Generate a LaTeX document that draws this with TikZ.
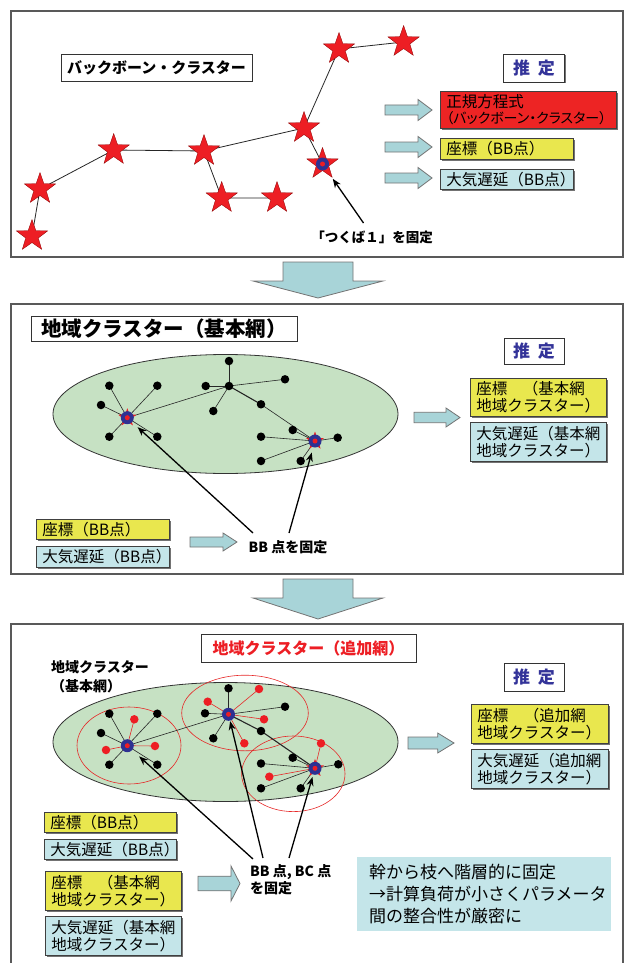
\documentclass[tikz,border=0pt]{standalone}
\usepackage{fontspec}
\setmainfont{Noto Sans CJK JP}
\usetikzlibrary{shapes.geometric,arrows.meta,shadows}
\definecolor{starred}{RGB}{237,30,36}
\definecolor{hubblue}{RGB}{46,49,146}
\definecolor{boxyellow}{RGB}{233,231,78}
\definecolor{boxblue}{RGB}{196,229,233}
\definecolor{arrowfill}{RGB}{168,212,216}
\definecolor{ellgreen}{RGB}{198,225,195}
\definecolor{boxred}{RGB}{237,36,36}
\definecolor{titleblue}{RGB}{51,51,153}
\definecolor{circred}{RGB}{230,40,40}
\newcommand\fsz[2]{\fontsize{#1}{#2}\selectfont}
\newcommand\rblock[6]{\draw[blockarrow] ({#1},{#2-#4}) -- ({#6},{#2-#4}) -- ({#6},{#2-#5}) -- ({#1+#3},{#2}) -- ({#6},{#2+#5}) -- ({#6},{#2+#4}) -- ({#1},{#2+#4}) -- cycle;}
\newcommand\dblock[6]{\draw[blockarrow] ({#1-#3},{#2}) -- ({#1+#3},{#2}) -- ({#1+#3},{#5}) -- ({#1+#4},{#5}) -- ({#1},{#6}) -- ({#1-#4},{#5}) -- ({#1-#3},{#5}) -- cycle;}
\begin{document}
\begin{tikzpicture}[x=1pt,y=-1pt,
  frame/.style={draw=black!65, line width=1.6pt},
  shad/.style={drop shadow={shadow xshift=1.3pt,shadow yshift=-1.3pt,fill=black!55,opacity=1}},
  tbox/.style={draw=black!80, line width=0.9pt, fill=white, inner sep=0pt, shad},
  cbox/.style={draw=black!75, line width=0.8pt, inner xsep=6pt, inner ysep=0pt, align=left, anchor=north west, shad, font=\fsz{15.5}{17}},
  ybox/.style={cbox, fill=boxyellow},
  bbox/.style={cbox, fill=boxblue},
  rbox/.style={cbox, fill=boxred},
  blockarrow/.style={fill=arrowfill, draw=black!55, line width=0.8pt},
  bigstar/.style={star, star points=5, star point ratio=2.5, minimum size=33pt, inner sep=0pt, fill=starred, draw=red!55!black, line width=0.3pt},
  smallstar/.style={star, star points=5, star point ratio=2.5, minimum size=19pt, inner sep=0pt, fill=starred},
  hubring/.style={circle, fill=hubblue, minimum size=13pt, inner sep=0pt},
  hubdot/.style={circle, fill=starred, minimum size=5pt, inner sep=0pt},
  dot/.style={circle, fill=black, minimum size=8.5pt, inner sep=0pt},
  rdot/.style={circle, fill=starred, minimum size=8.5pt, inner sep=0pt},
  edge/.style={draw=black!85, line width=0.6pt},
  redge/.style={draw=circred, line width=0.6pt},
  ptr/.style={-{Stealth[length=9pt,width=7pt]}, line width=1.3pt},
  lbl/.style={font=\fsz{14}{17}\bfseries, inner sep=0pt}
]
\useasboundingbox (0,0) rectangle (628,963);

% ================= Panel 1 =================
\draw[frame] (11,11) rectangle (623,257);
\node[tbox, minimum width=191pt, minimum height=27pt, font=\fsz{15}{18}\bfseries] (t1) at (156.5,67.5) {バックボーン・クラスター};

\coordinate (S1) at (32,236);
\coordinate (S2) at (40,189);
\coordinate (S3) at (113.7,150);
\coordinate (S4) at (204,151);
\coordinate (S5) at (221.7,198);
\coordinate (S6) at (277,198);
\coordinate (S7) at (304,128);
\coordinate (S8) at (339,49);
\coordinate (S9) at (403.6,42);
\coordinate (ST) at (322.5,164);
\draw[edge, line width=0.8pt] (S1) -- (S2) -- (S3) -- (S4) -- (S5) -- (S6);
\draw[edge, line width=0.8pt] (S4) -- (S7) -- (S8) -- (S9);
\draw[edge, line width=0.8pt] (S7) -- (ST);
\foreach \s in {S1,S2,S3,S4,S5,S6,S7,S8,S9,ST} \node[bigstar] (\s n) at (\s) {};
\node[hubring] (STr) at (ST) {};
\node[hubdot] (STd) at (ST) {};

\node[lbl, font=\fsz{13.5}{16}\bfseries] (tsk) at (372,237) {「つくば１」を固定};
\coordinate (tska) at (363.5,223);
\draw[ptr, shorten >=2pt] (tska) -- (STn) ;

\node[tbox, minimum width=61pt, minimum height=28pt, text=titleblue, font=\fsz{17}{20}\bfseries] (est1) at (534,68) {推\hspace{0.45em}定};
\node[rbox, text width=164pt, minimum height=37pt] (rb1) at (440,91) {正規方程式\\[-1pt]{\fsz{14}{15}\addfontfeature{RawFeature=+palt}（バックボーン・クラスター）}};
\node[ybox, text width=121pt, minimum height=21pt] (yb1) at (440,138) {座標（BB点）};
\node[bbox, text width=121pt, minimum height=20pt] (bb1) at (440,169) {大気遅延（BB点）};
\rblock{385}{110}{47}{5}{10.5}{418}
\rblock{385}{147}{47}{5}{10.5}{418}
\rblock{385}{178}{47}{5}{10.5}{418}

\dblock{318}{262}{35}{65}{281}{298}

% ================= Panel 2 =================
\draw[frame] (11,304) rectangle (623,574);
\node[tbox, minimum width=266pt, minimum height=25pt, font=\fsz{20.5}{23}\bfseries] (t2) at (164,328.5) {地域クラスター（基本網）};
\draw[fill=ellgreen, draw=black!80, line width=0.8pt] (225.5,414) ellipse [x radius=172.5, y radius=59.5];

\coordinate (mh1) at (127.3,417.7);
\coordinate (mh2) at (229,386);
\coordinate (mh3) at (315,441);
\coordinate (ma1) at (109.3,385.7);
\coordinate (ma2) at (157.3,385.7);
\coordinate (ma3) at (101,405);
\coordinate (ma4) at (109.3,436.7);
\coordinate (ma5) at (157.3,436.7);
\coordinate (mb1) at (229,361);
\coordinate (mb2) at (205.7,386);
\coordinate (mb3) at (285,379.3);
\coordinate (mb4) at (213.3,411);
\coordinate (mb5) at (261,404.3);
\coordinate (mc1) at (292.7,430);
\coordinate (mc2) at (261,436.7);
\coordinate (mc3) at (337.7,437.7);
\coordinate (mc4) at (261,461);
\coordinate (mc5) at (300.7,461);
\foreach \p in {ma1,ma2,ma3,ma4,ma5} \draw[edge] (mh1) -- (\p);
\foreach \p in {mb1,mb2,mb3,mb4} \draw[edge] (mh2) -- (\p);
\foreach \p in {mc1,mc2,mc3,mc4,mc5} \draw[edge] (mh3) -- (\p);
\draw[edge] (mh1) -- (mh2);
\draw[edge, line width=1.1pt] (mh2) -- (mb5);
\draw[edge] (mb5) -- (mh3);
\foreach \p in {mh2,ma1,ma2,ma3,ma4,ma5,mb1,mb2,mb3,mb4,mb5,mc1,mc2,mc3,mc4,mc5} \node[dot] (\p d) at (\p) {};
\foreach \p in {mh1,mh3} {
  \node[smallstar] (\p s) at (\p) {};
  \node[hubring] (\p r) at (\p) {};
  \node[hubdot] (\p d) at (\p) {};
}

\node[tbox, minimum width=60pt, minimum height=26pt, text=titleblue, font=\fsz{17}{20}\bfseries] (est2) at (534,351) {推\hspace{0.45em}定};
\rblock{414}{417.5}{46}{5.2}{9.5}{446}
\node[ybox, text width=124pt, minimum height=38pt] (yb2) at (470,378) {座標　（基本網\\地域クラスター）};
\node[bbox, text width=124pt, minimum height=39pt] (bb2) at (470,422) {大気遅延（基本網\\地域クラスター）};
\node[ybox, text width=121pt, minimum height=20pt] (yb2l) at (36,519) {座標（BB点）};
\node[bbox, text width=121pt, minimum height=21pt] (bb2l) at (36,546) {大気遅延（BB点）};
\rblock{190}{542}{47}{5}{9}{223}
\node[lbl] (fix2) at (288,547) {BB 点を固定};
\coordinate (m1s) at (253,533);
\coordinate (m2s) at (289,533);
\draw[ptr, shorten >=14pt] (m1s) -- (mh1);
\draw[ptr, shorten >=12pt] (m2s) -- (mh3);

\dblock{318}{579}{35}{65}{598}{619}

% ================= Panel 3 =================
\draw[frame] (11,975) -- (11,624) -- (623,624) -- (623,975);
\node[tbox, minimum width=215pt, minimum height=28pt, text=starred, font=\fsz{16}{19}\bfseries] (t3) at (308.5,648) {地域クラスター（追加網）};
\node[lbl, align=left, anchor=north west, font=\fsz{14}{19}\bfseries] (lab3) at (51,660) {地域クラスター\\（基本網）};
\draw[fill=ellgreen, draw=black!80, line width=0.8pt] (225.5,742) ellipse [x radius=172.5, y radius=59.5];
\draw[circred, line width=0.6pt] (129,745.5) ellipse [x radius=52, y radius=38.5];
\draw[circred, line width=0.6pt] (245,713) ellipse [x radius=63.3, y radius=37.8];
\draw[circred, line width=0.6pt] (293.3,773.8) ellipse [x radius=51.7, y radius=37.8];

\coordinate (nh1) at (127.3,745.7);
\coordinate (nh2) at (228.5,714.3);
\coordinate (nh3) at (315,768.3);
\coordinate (na1) at (109.3,713.7);
\coordinate (na2) at (157.3,713.7);
\coordinate (na3) at (101,733);
\coordinate (na4) at (109.3,764.7);
\coordinate (na5) at (157.3,764.7);
\coordinate (nb1) at (228.5,688.3);
\coordinate (nb2) at (205,713.3);
\coordinate (nb3) at (285,706.7);
\coordinate (nb4) at (213.3,738.3);
\coordinate (nb5) at (261,731);
\coordinate (nc1) at (292.7,757.7);
\coordinate (nc2) at (261,763.5);
\coordinate (nc3) at (338.3,764.3);
\coordinate (nc4) at (261,788.3);
\coordinate (nc5) at (300.7,788.3);
\coordinate (nr1) at (134.3,719.3);
\coordinate (nr2) at (106,750);
\coordinate (nr3) at (155,746);
\coordinate (nr4) at (207.7,701.7);
\coordinate (nr5) at (259,689);
\coordinate (nr6) at (264,719.3);
\coordinate (nr7) at (244.3,743.3);
\coordinate (nr8) at (321,743.3);
\coordinate (nr9) at (269.3,776.7);
\foreach \p in {na1,na2,na3,na4,na5} \draw[edge] (nh1) -- (\p);
\foreach \p in {nb1,nb2,nb3,nb4} \draw[edge] (nh2) -- (\p);
\foreach \p in {nc1,nc2,nc3,nc4,nc5} \draw[edge] (nh3) -- (\p);
\foreach \p in {nr1,nr2,nr3} \draw[redge] (nh1) -- (\p);
\foreach \p in {nr4,nr5,nr6,nr7} \draw[redge] (nh2) -- (\p);
\foreach \p in {nr8,nr9} \draw[redge] (nh3) -- (\p);
\draw[edge] (nh1) -- (nh2);
\draw[edge, line width=1.1pt] (nh2) -- (nb5);
\draw[edge, line width=1.1pt] (nb5) -- (nh3);
\foreach \p in {na1,na2,na3,na4,na5,nb1,nb2,nb3,nb4,nb5,nc1,nc2,nc3,nc4,nc5} \node[dot] (\p d) at (\p) {};
\foreach \p in {nr1,nr2,nr3,nr4,nr5,nr6,nr7,nr8,nr9} \node[rdot] (\p d) at (\p) {};
\node[smallstar] (nh3s) at (nh3) {};
\foreach \p in {nh1,nh2,nh3} {
  \node[hubring] (\p r) at (\p) {};
  \node[hubdot] (\p d) at (\p) {};
}

\node[tbox, minimum width=60pt, minimum height=28pt, text=titleblue, font=\fsz{17}{20}\bfseries] (est3) at (534,677) {推\hspace{0.45em}定};
\rblock{408}{743}{46}{6}{10}{437.7}
\node[ybox, text width=125pt, minimum height=39pt] (yb3) at (471,704) {座標　（追加網\\地域クラスター）};
\node[bbox, text width=125pt, minimum height=39pt] (bb3) at (471,749) {大気遅延（追加網\\地域クラスター）};

\node[ybox, text width=120pt, minimum height=20pt] (yb3a) at (44,812) {座標（BB点）};
\node[bbox, text width=120pt, minimum height=20pt] (bb3a) at (44,839) {大気遅延（BB点）};
\node[ybox, text width=124pt, minimum height=39pt] (yb3b) at (45,871) {座標　（基本網\\地域クラスター）};
\node[bbox, text width=124pt, minimum height=39pt] (bb3b) at (45,916) {大気遅延（基本網\\地域クラスター）};
\rblock{198}{883.5}{42}{7.3}{17.5}{231}
\node[lbl, align=left, anchor=north west] (fix3) at (250,864) {BB 点, BC 点\\を固定};
\coordinate (n1s) at (253,859);
\coordinate (n2s) at (263,858);
\coordinate (n3s) at (289,858);
\draw[ptr, shorten >=16pt] (n1s) -- (nh1);
\draw[ptr, shorten >=7pt] (n2s) -- (nh2);
\draw[ptr, shorten >=9pt] (n3s) -- (nh3);

\node[fill=boxblue, anchor=north west, minimum width=254pt, minimum height=74pt, text width=230pt, inner xsep=12pt, align=left, font=\fsz{17}{21.7}] (note) at (357,857) {幹から枝へ階層的に固定\\→計算負荷が小さくパラメータ\\間の整合性が厳密に};
\end{tikzpicture}
\end{document}
